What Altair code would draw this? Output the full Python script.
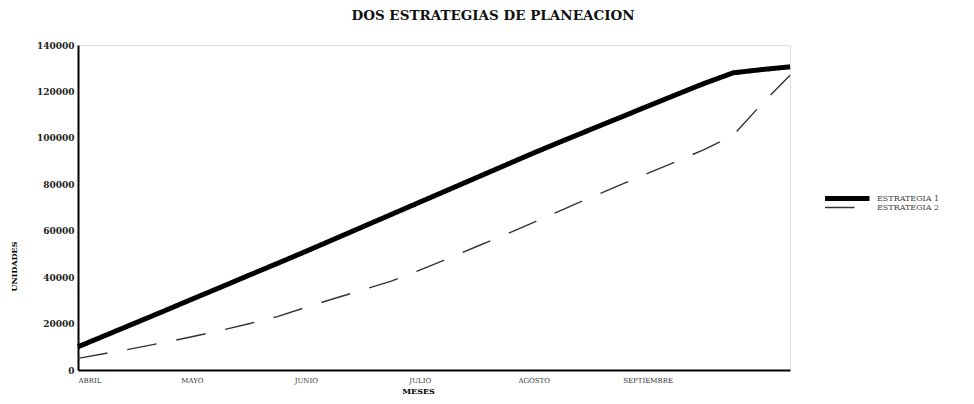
import altair as alt
import pandas as pd

# --- data ---
semanas = list(range(26))
estrategia_1 = [10000, 15100, 20200, 25300, 30500, 35600, 40800, 45900, 51100, 56400,
                61700, 67000, 72300, 77600, 82900, 88200, 93500, 98600, 103600, 108600,
                113600, 118600, 123500, 128000, 129400, 130600]
estrategia_2 = [5000, 7200, 9400, 11800, 14300, 17000, 19900, 23000, 27000, 30800,
                34500, 38300, 43000, 48000, 53200, 58300, 63600, 69000, 74300, 79500,
                84700, 89800, 95000, 101000, 114500, 127000]
series = ["ESTRATEGIA 1", "ESTRATEGIA 2"]
x_tick_pos = [0, 4, 8, 12, 16, 20]
x_tick_lab = ["ABRIL", "MAYO", "JUNIO", "JULIO", "AGOSTO", "SEPTIEMBRE"]
y_ticks = [0, 20000, 40000, 60000, 80000, 100000, 120000, 140000]

rows = []
for s, vals in zip(series, [estrategia_1, estrategia_2]):
    for w, v in zip(semanas, vals):
        rows.append({"semana": w, "unidades": v, "serie": s})
df = pd.DataFrame(rows)

label_expr = "''"
for p, l in reversed(list(zip(x_tick_pos, x_tick_lab))):
    label_expr = f"datum.value == {p} ? '{l}' : ({label_expr})"

FONT = "DejaVu Serif"

chart = alt.Chart(df).mark_line(strokeCap="butt", strokeJoin="round").encode(
    x=alt.X("semana:Q",
            scale=alt.Scale(domain=[0, 25], nice=False, zero=False),
            axis=alt.Axis(values=x_tick_pos, labelExpr=label_expr, title="MESES",
                          grid=False, ticks=False, domainColor="black", domainWidth=2,
                          labelFont=FONT, labelFontSize=7, labelColor="#333",
                          labelPadding=6, titleFont=FONT, titleFontSize=8,
                          titleFontWeight="bold", titlePadding=4, titleX=340,
                          labelOverlap=False)),
    y=alt.Y("unidades:Q",
            scale=alt.Scale(domain=[0, 140000], nice=False),
            axis=alt.Axis(values=y_ticks, format="d", title="UNIDADES",
                          grid=False, ticks=False, domainColor="black", domainWidth=2,
                          labelFont=FONT, labelFontSize=9, labelFontWeight="bold",
                          labelColor="#222", labelPadding=4,
                          titleFont=FONT, titleFontSize=8, titleFontWeight="bold",
                          titlePadding=18, titleY=221)),
    color=alt.Color("serie:N",
                    scale=alt.Scale(domain=series, range=["#000000", "#333333"]),
                    legend=alt.Legend(title=None, orient="none", legendX=747, legendY=149,
                                      symbolType="M-3,0H27", symbolSize=9,
                                      labelFont=FONT, labelFontSize=8, labelColor="#444",
                                      labelOffset=44, rowPadding=0, clipHeight=9)),
    strokeDash=alt.StrokeDash("serie:N",
                              scale=alt.Scale(domain=series, range=[[1, 0], [30, 20]])),
    strokeWidth=alt.StrokeWidth("serie:N",
                                scale=alt.Scale(domain=series, range=[5, 1.4])),
).properties(
    width=712, height=325,
    autosize=alt.AutoSizeParams(type="none"),
    padding={"left": 70, "top": 37, "right": 176, "bottom": 26},
    title=alt.Title("DOS ESTRATEGIAS DE PLANEACION", font=FONT, fontSize=13.5,
                    fontWeight="bold", anchor="middle", dx=59, offset=19, color="#111"),
).configure_view(stroke="black", strokeWidth=1.5).configure(background="white")

chart.save("out.html", embed_options={"renderer": "svg", "actions": False})
